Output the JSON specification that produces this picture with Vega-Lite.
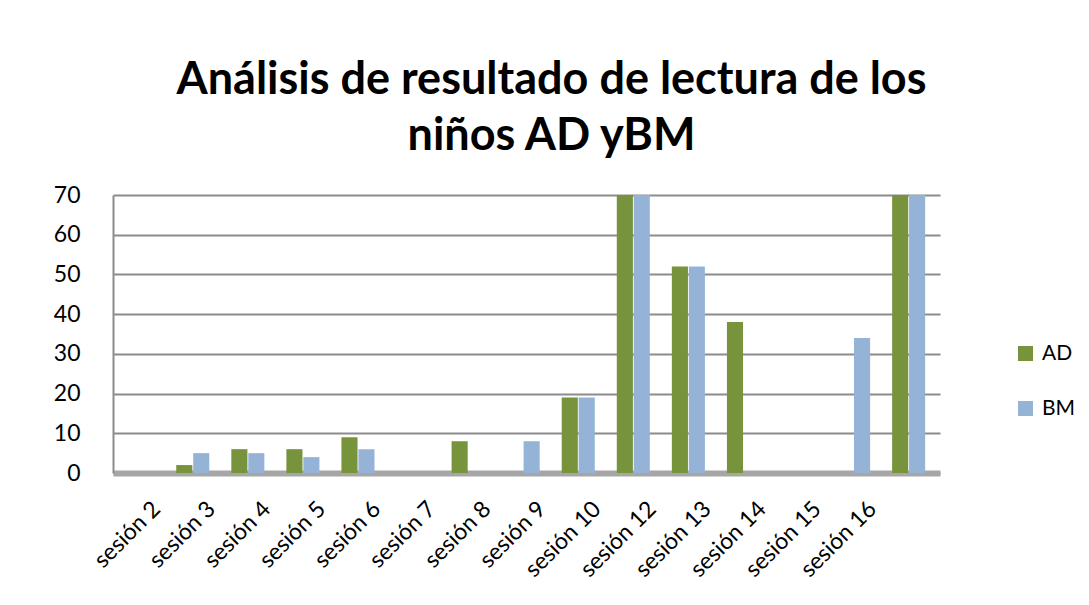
{
  "$schema": "https://vega.github.io/schema/vega-lite/v6.json",
  "autosize": "none",
  "width": 827,
  "height": 278,
  "padding": {"left": 113, "top": 195, "right": 149, "bottom": 132},
  "background": "white",
  "title": {
    "text": ["Análisis de resultado de lectura de los", "niños AD yBM"],
    "font": "Lato",
    "fontSize": 45,
    "fontWeight": "bold",
    "lineHeight": 56,
    "color": "black",
    "anchor": "middle",
    "frame": "group",
    "dx": 25,
    "offset": 25
  },
  "data": {
    "values": [
      {"s": "sesión 2", "g": "AD", "v": 2}, {"s": "sesión 2", "g": "BM", "v": 5},
      {"s": "sesión 3", "g": "AD", "v": 6}, {"s": "sesión 3", "g": "BM", "v": 5},
      {"s": "sesión 4", "g": "AD", "v": 6}, {"s": "sesión 4", "g": "BM", "v": 4},
      {"s": "sesión 5", "g": "AD", "v": 9}, {"s": "sesión 5", "g": "BM", "v": 6},
      {"s": "sesión 6", "g": "AD", "v": 0}, {"s": "sesión 6", "g": "BM", "v": 0},
      {"s": "sesión 7", "g": "AD", "v": 8}, {"s": "sesión 7", "g": "BM", "v": 0},
      {"s": "sesión 8", "g": "AD", "v": 0}, {"s": "sesión 8", "g": "BM", "v": 8},
      {"s": "sesión 9", "g": "AD", "v": 19}, {"s": "sesión 9", "g": "BM", "v": 19},
      {"s": "sesión 10", "g": "AD", "v": 70}, {"s": "sesión 10", "g": "BM", "v": 70},
      {"s": "sesión 12", "g": "AD", "v": 52}, {"s": "sesión 12", "g": "BM", "v": 52},
      {"s": "sesión 13", "g": "AD", "v": 38}, {"s": "sesión 13", "g": "BM", "v": 0},
      {"s": "sesión 14", "g": "AD", "v": 0}, {"s": "sesión 14", "g": "BM", "v": 0},
      {"s": "sesión 15", "g": "AD", "v": 0}, {"s": "sesión 15", "g": "BM", "v": 34},
      {"s": "sesión 16", "g": "AD", "v": 70}, {"s": "sesión 16", "g": "BM", "v": 70}
    ]
  },
  "mark": {"type": "bar", "stroke": null},
  "encoding": {
    "x": {
      "field": "s",
      "type": "nominal",
      "sort": null,
      "title": null,
      "scale": {"paddingInner": 0.4, "paddingOuter": 0.709, "align": 0.81},
      "axis": {
        "labelAngle": -45,
        "labelAlign": "right",
        "labelBaseline": "middle",
        "labelFont": "Lato",
        "labelFontSize": 23,
        "labelColor": "black",
        "labelPadding": 32,
        "labelOffset": -36,
        "ticks": false,
        "domainColor": "#a6a6a6",
        "domainWidth": 6,
        "grid": false
      }
    },
    "xOffset": {"field": "g", "type": "nominal", "scale": {"paddingInner": 0.05}},
    "y": {
      "field": "v",
      "type": "quantitative",
      "title": null,
      "scale": {"domain": [0, 70]},
      "axis": {
        "values": [0, 10, 20, 30, 40, 50, 60, 70],
        "labelFont": "Lato",
        "labelFontSize": 23,
        "labelColor": "black",
        "labelPadding": 33,
        "ticks": false,
        "domain": true,
        "domainColor": "#8c8c8c",
        "domainWidth": 2,
        "gridColor": "#8c8c8c",
        "gridWidth": 2
      }
    },
    "color": {
      "field": "g",
      "type": "nominal",
      "title": null,
      "scale": {"domain": ["AD", "BM"], "range": ["#77933C", "#95B3D7"]},
      "legend": {
        "orient": "none",
        "legendX": 902,
        "legendY": 148,
        "symbolType": "square",
        "symbolSize": 225,
        "symbolStrokeWidth": 0,
        "labelFont": "Lato",
        "labelFontSize": 21,
        "labelColor": "black",
        "rowPadding": 33,
        "labelOffset": 6
      }
    }
  },
  "config": {"view": {"stroke": null}}
}
